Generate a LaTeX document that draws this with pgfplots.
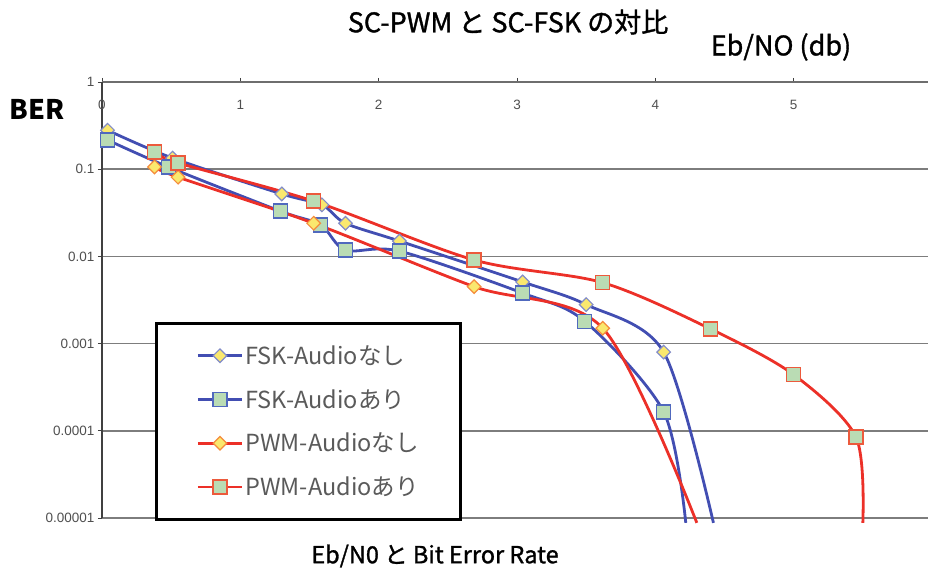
\documentclass[border=0pt]{standalone}
\usepackage{pgfplots}
\pgfplotsset{compat=1.18}
\usepackage{fontspec}
\setmainfont{Noto Sans CJK JP}
\newfontfamily\semib[FakeBold=1.2]{Noto Sans CJK JP}
\newfontfamily\tickfont{Liberation Sans}
\definecolor{blueline}{RGB}{66,78,178}
\definecolor{redline}{RGB}{236,48,40}
\definecolor{yel}{RGB}{250,232,110}
\definecolor{grn}{RGB}{186,220,180}
\definecolor{bdiam}{RGB}{130,140,200}
\definecolor{odiam}{RGB}{245,140,60}
\definecolor{bsq}{RGB}{80,105,190}
\definecolor{osq}{RGB}{236,90,60}
\definecolor{gridgray}{RGB}{125,125,125}
\definecolor{axgray}{RGB}{110,110,110}
\definecolor{ticktext}{RGB}{80,80,80}
\definecolor{legtext}{RGB}{90,90,90}
\pgfplotsset{
  fskA/.style={draw=blueline, line width=2.8pt, smooth, mark=square*, mark size=4.8pt,
    mark options={rotate=45, fill=yel, draw=bdiam, line width=1.2pt, solid}},
  fskB/.style={draw=blueline, line width=2.8pt, smooth, mark=square*, mark size=7pt,
    mark options={fill=grn, draw=bsq, line width=1.4pt, solid}},
  pwmA/.style={draw=redline, line width=2.8pt, smooth, mark=square*, mark size=4.8pt,
    mark options={rotate=45, fill=yel, draw=odiam, line width=1.2pt, solid}},
  pwmB/.style={draw=redline, line width=2.8pt, smooth, mark=square*, mark size=7pt,
    mark options={fill=grn, draw=osq, line width=1.4pt, solid}},
}
\begin{document}
\begin{tikzpicture}
\begin{axis}[
  at={(0pt,0pt)}, anchor=south west,
  scale only axis, width=830pt, height=436pt,
  xmin=0, xmax=6, ymin=1e-5, ymax=1, ymode=log,
  axis x line=top, axis y line=left,
  x axis line style={-, draw=axgray, line width=2pt},
  y axis line style={-, draw=black!75, line width=1.2pt},
  xtick={0,1,2,3,4,5,6}, xticklabels={0,1,2,3,4,5,6},
  ytick={1,0.1,0.01,0.001,0.0001,0.00001},
  yticklabels={1,0.1,0.01,0.001,0.0001,0.00001},
  ymajorgrids, major grid style={draw=gridgray, line width=1.5pt},
  tick style={draw=black!75, line width=0.8pt},
  major tick length=4pt, minor tick length=2.5pt,
  tick align=outside,
  ticklabel style={font=\tickfont\fontsize{13.5}{13.5}\selectfont, text=ticktext},
  xticklabel style={anchor=center, yshift=-27pt},
  clip=false,
  legend cell align=left,
  legend image code/.code={\draw[mark repeat=2,mark phase=2,#1] plot coordinates {(0pt,0pt) (22pt,0pt) (44pt,0pt)};},
  legend style={at={(0.0639,0.4495)}, anchor=north west, draw=black, line width=3pt,
    fill=white, font=\fontsize{23.5}{23.5}\selectfont, text=legtext,
    inner xsep=40pt, inner ysep=20pt, row sep=19.5pt,
    /tikz/every even column/.append style={column sep=2pt}},
]
\addlegendimage{fskA}
\addlegendimage{fskB}
\addlegendimage{pwmA}
\addlegendimage{pwmB}
\legend{FSK-Audioなし, FSK-Audioあり, PWM-Audioなし, PWM-Audioあり}

\addplot[fskA, forget plot, mark indices={1,2,3,4,5,6,7,8,9}] coordinates {
(0.04,0.28) (0.51,0.134) (1.30,0.052) (1.59,0.039) (1.76,0.024) (2.15,0.015)
(3.04,0.0051) (3.50,0.0028) (4.06,0.00080) (4.42,0.0000088)};
\addplot[fskB, forget plot, mark indices={1,2,3,4,5,6,7,8,9}] coordinates {
(0.04,0.216) (0.48,0.106) (1.29,0.033) (1.58,0.023) (1.76,0.0118) (2.15,0.0115)
(3.04,0.0038) (3.49,0.0018) (4.06,0.000165) (4.22,0.0000088)};
\addplot[pwmA, forget plot, mark indices={1,2,3,4,5}] coordinates {
(0.38,0.106) (0.55,0.081) (1.53,0.024) (2.69,0.0045) (3.62,0.0015) (4.30,0.0000088)};
\addplot[pwmB, forget plot, mark indices={1,2,3,4,5,6,7,8}] coordinates {
(0.38,0.158) (0.55,0.118) (1.53,0.043) (2.69,0.0091) (3.62,0.0050) (4.40,0.00147)
(5.00,0.00044) (5.45,0.000085) (5.50,0.0000088)};
\end{axis}
\node[font=\semib\fontsize{27}{27}\selectfont] at (406pt,496pt) {SC-PWM と SC-FSK の対比};
\node[font=\semib\fontsize{27}{27}\selectfont] at (679pt,471pt) {Eb/NO (db)};
\node[font=\bfseries\fontsize{27}{27}\selectfont] at (-65pt,409pt) {BER};
\node[font=\semib\fontsize{23.5}{23.5}\selectfont] at (333pt,-38pt) {Eb/N0 と Bit Error Rate};
\pgfresetboundingbox
\path[use as bounding box] (-102pt,-54pt) rectangle (826pt,518pt);
\end{tikzpicture}
\end{document}
